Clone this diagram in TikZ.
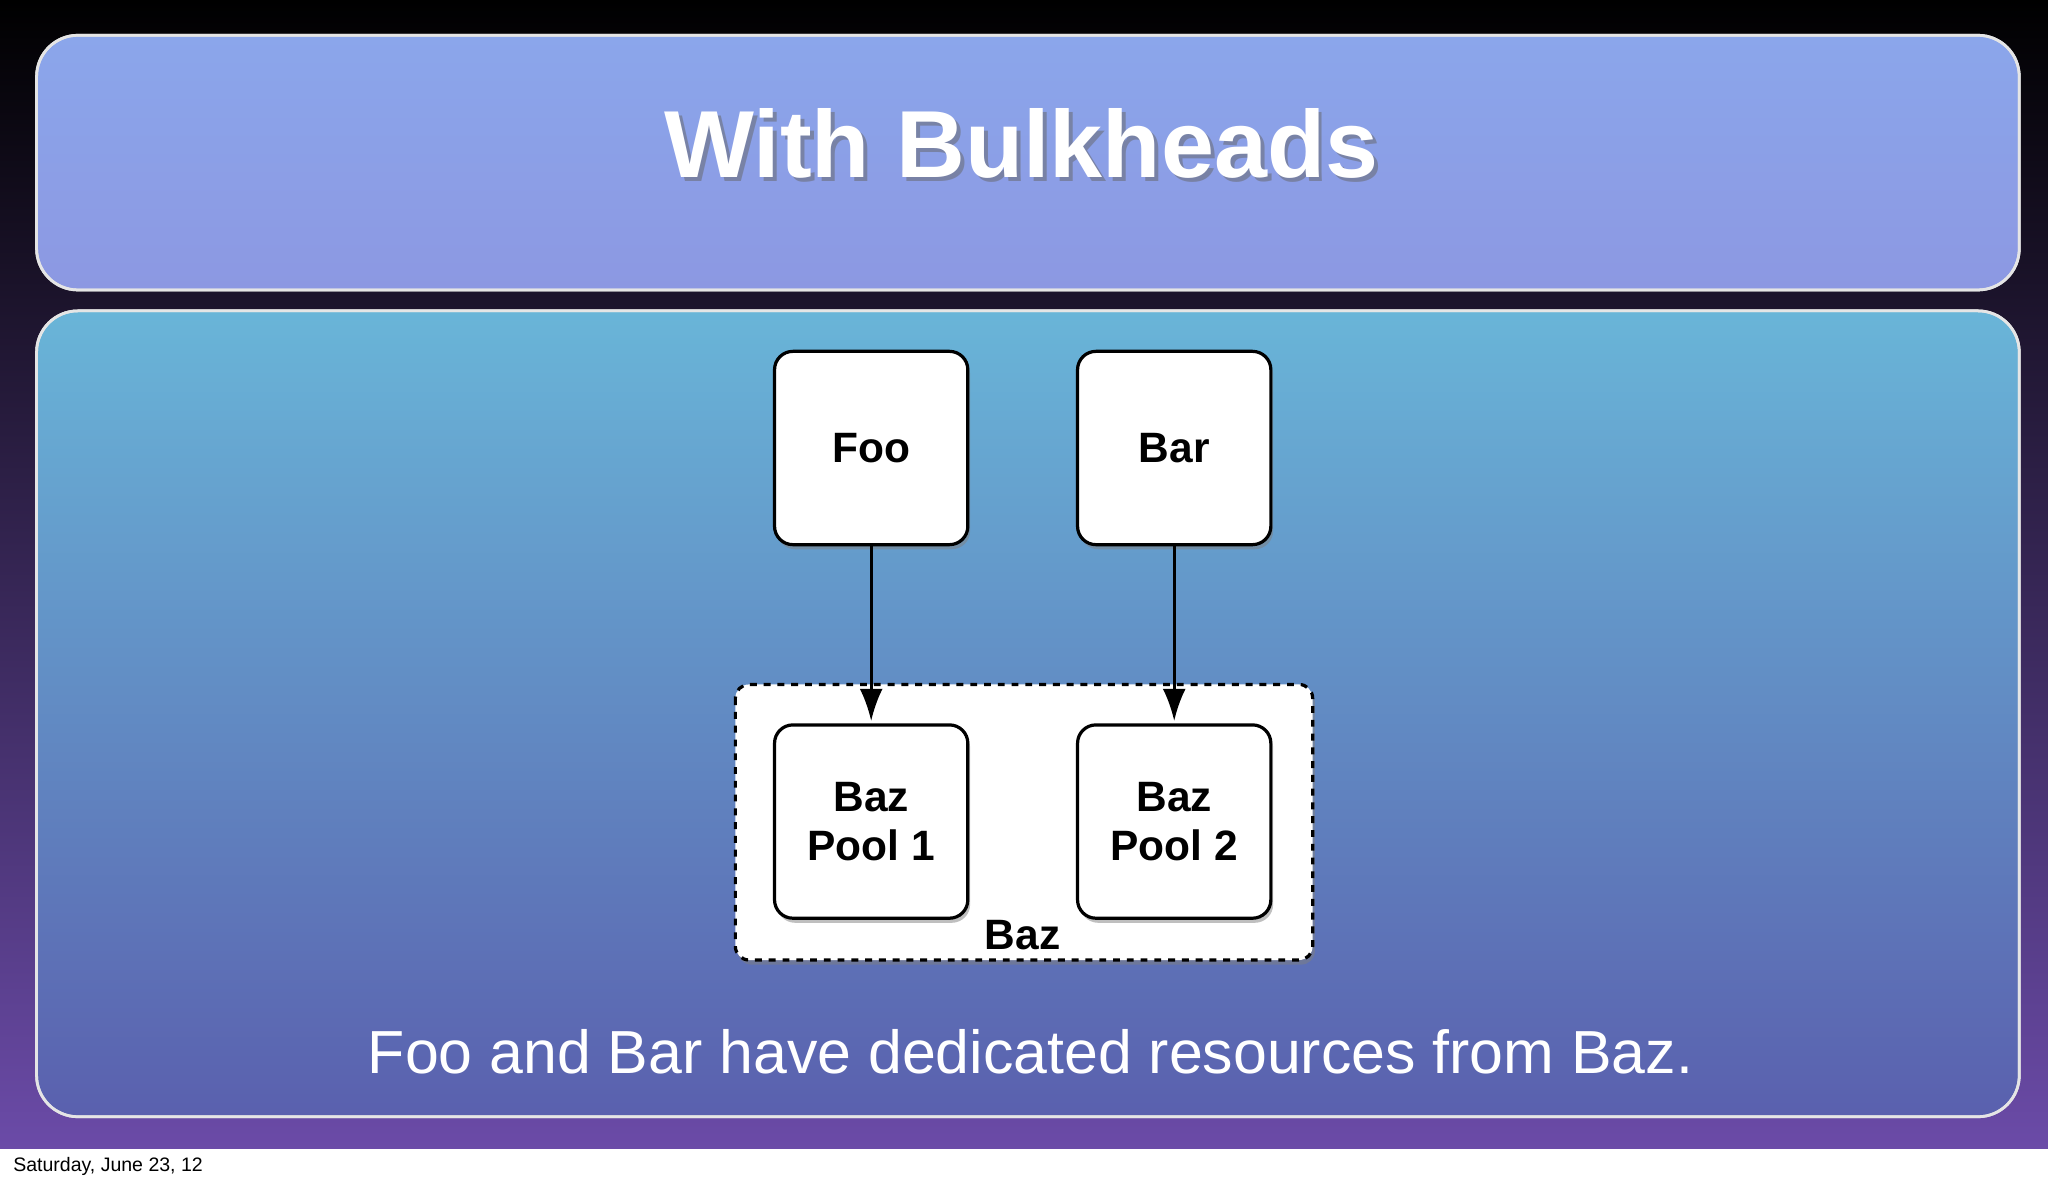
\documentclass[tikz,border=0pt]{standalone}
\usepackage{fontspec}
\setmainfont{Liberation Sans}
\usetikzlibrary{shadows,arrows.meta}
\definecolor{titletop}{HTML}{8BA6EB}
\definecolor{titlebot}{HTML}{8C98E2}
\definecolor{maintop}{HTML}{69B5D8}
\definecolor{mainbot}{HTML}{5A60AE}
\definecolor{bgtop}{HTML}{000000}
\definecolor{bgbot}{HTML}{6B4BA8}
\tikzset{
  panel/.style={draw=white!80!gray, line width=1.2pt, rounded corners=18pt},
  wbox/.style={draw=black, line width=1.4pt, fill=white, rounded corners=8pt, minimum width=148*0.2mm, minimum height=148*0.2mm, font=\bfseries\fontsize{18.5}{21}\selectfont, align=center, drop shadow={shadow xshift=1pt, shadow yshift=-2pt, opacity=0.5}},
  arr/.style={-{Latex[length=14pt,width=10pt]}, line width=1.2pt},
  titlefont/.style={font=\bfseries\fontsize{41.5}{48}\selectfont}
}
\begin{document}
\begin{tikzpicture}[x=0.2mm,y=-0.2mm]
\useasboundingbox (0,0) rectangle (1568,906);
\shade[top color=bgtop, bottom color=bgbot] (0,0) rectangle (1568,880);
\fill[white] (0,880) rectangle (1568,906);
\node[anchor=west, font=\fontsize{8.5}{10}\selectfont] (date) at (4,893) {Saturday, June 23, 12};
\shade[panel, top color=titletop, bottom color=titlebot] (28,27) rectangle (1546,222);
\draw[panel] (28,27) rectangle (1546,222);
\shade[panel, top color=maintop, bottom color=mainbot] (28,238) rectangle (1546,855);
\draw[panel] (28,238) rectangle (1546,855);
\node[titlefont, text=black!60, opacity=0.5] (titleshadow) at (785,113) {With Bulkheads};
\node[titlefont, text=white] (title) at (782,110) {With Bulkheads};
\node[wbox] (foo) at (667,343) {Foo};
\node[wbox] (bar) at (899,343) {Bar};
\draw[dashed, line width=1.4pt, fill=white, rounded corners=6pt, drop shadow={shadow xshift=1pt, shadow yshift=-2pt, opacity=0.5}] (563,524) rectangle (1005,735);
\node[wbox] (p1) at (667,629) {Baz\\Pool 1};
\node[wbox] (p2) at (899,629) {Baz\\Pool 2};
\node[font=\bfseries\fontsize{18.5}{21}\selectfont] (baz) at (783,716) {Baz};
\coordinate (t1) at (667,552);
\coordinate (t2) at (899,552);
\draw[arr] (foo.south) -- (t1);
\draw[arr] (bar.south) -- (t2);
\node[font=\fontsize{26.5}{30}\selectfont, text=white] (cap) at (789,805) {Foo and Bar have dedicated resources from Baz.};
\end{tikzpicture}
\end{document}
